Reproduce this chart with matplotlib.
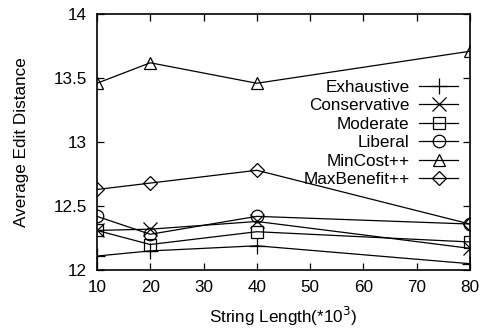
import matplotlib
matplotlib.use("Agg")
import matplotlib.pyplot as plt

plt.rcParams['font.family'] = ['Liberation Sans', 'DejaVu Sans']
plt.rcParams['font.size'] = 12.3

x = [10, 20, 40, 80]
series_names = ["Exhaustive", "Conservative", "Moderate", "Liberal", "MinCost++", "MaxBenefit++"]
exhaustive = [12.11, 12.15, 12.19, 12.05]
conservative = [12.31, 12.32, 12.38, 12.17]
moderate = [12.31, 12.20, 12.30, 12.22]
liberal = [12.42, 12.28, 12.42, 12.36]
mincost = [13.46, 13.62, 13.46, 13.71]
maxbenefit = [12.63, 12.68, 12.78, 12.36]
markers = ['+', 'x', 's', 'o', '^', 'D']
xticks = [10, 20, 30, 40, 50, 60, 70, 80]
yticks = [12, 12.5, 13, 13.5, 14]
yticklabels = ["12", "12.5", "13", "13.5", "14"]

fig = plt.figure(figsize=(4.8, 3.29), dpi=100)
ax = fig.add_axes([0.202, 0.179, 0.777, 0.778])

data = [exhaustive, conservative, moderate, liberal, mincost, maxbenefit]
sizes = {'+': 12, 'x': 10, 's': 9, 'o': 9, '^': 9, 'D': 7}
for name, vals, m in zip(series_names, data, markers):
    ax.plot(x, vals, color='black', lw=0.9, marker=m, ms=sizes[m],
            mfc='none', mec='black', mew=0.9, label=name)

ax.set_xlim(10, 80)
ax.set_ylim(12, 14)
ax.set_xticks(xticks)
ax.set_yticks(yticks)
ax.set_yticklabels(yticklabels)
ax.tick_params(direction='in', top=True, right=True, length=5, width=0.9, pad=7)
for s in ax.spines.values():
    s.set_linewidth(1.2)

ax.set_xlabel("String Length(*10$^3$)", labelpad=7)
ax.set_ylabel("Average Edit Distance", labelpad=18)

leg = fig.legend(loc='upper right', bbox_to_anchor=(0.955, 0.757), frameon=False,
                 markerfirst=False, handlelength=2.3, handletextpad=0.55,
                 labelspacing=0.2, borderpad=0, borderaxespad=0)
for t in leg.get_texts():
    t.set_ha('right')

fig.savefig("out.png", dpi=100)
